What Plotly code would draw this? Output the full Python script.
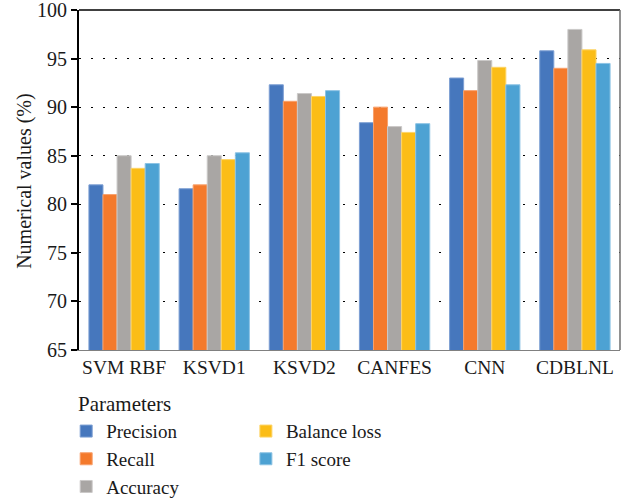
import plotly.graph_objects as go

categories = ["SVM RBF", "KSVD1", "KSVD2", "CANFES", "CNN", "CDBLNL"]
precision = [82.0, 81.6, 92.3, 88.4, 93.0, 95.8]
recall = [81.0, 82.0, 90.6, 90.0, 91.7, 94.0]
accuracy = [85.0, 85.0, 91.4, 88.0, 94.8, 98.0]
balance_loss = [83.7, 84.6, 91.1, 87.4, 94.1, 95.9]
f1_score = [84.2, 85.3, 91.7, 88.3, 92.3, 94.5]
y_ticks = [65, 70, 75, 80, 85, 90, 95, 100]

series = [
    ("Precision", precision, "#4677bd", "#7d9fd3", "legend"),
    ("Recall", recall, "#f47a2c", "#f8a16c", "legend"),
    ("Accuracy", accuracy, "#a9a6a4", "#cbc9c8", "legend"),
    ("Balance loss", balance_loss, "#fbbd17", "#fdd466", "legend2"),
    ("F1 score", f1_score, "#4da2d3", "#8cc3e4", "legend2"),
]

FONT = "Liberation Serif"

fig = go.Figure()
for name, vals, col, lcol, lg in series:
    fig.add_trace(go.Bar(
        x=categories, y=vals, name=name,
        marker=dict(color=col, line=dict(color=lcol, width=1)),
        legend=lg,
    ))

fig.update_layout(
    width=637, height=499,
    margin=dict(l=79, r=17, t=10, b=149, autoexpand=False),
    paper_bgcolor="white", plot_bgcolor="white",
    barmode="group", bargap=0.22, bargroupgap=0,
    font=dict(family=FONT, size=17, color="#1a1a1a"),
    showlegend=True,
    legend=dict(
        x=-0.0237, xanchor="left", y=-0.183, yanchor="top",
        orientation="v", font=dict(family=FONT, size=19),
        bgcolor="rgba(0,0,0,0)",
    ),
    legend2=dict(
        x=0.3085, xanchor="left", y=-0.183, yanchor="top",
        orientation="v", font=dict(family=FONT, size=19),
        bgcolor="rgba(0,0,0,0)",
    ),
    annotations=[
        dict(text="Parameters", xref="paper", yref="paper", x=-0.006, y=-0.119,
             xanchor="left", yanchor="top", showarrow=False,
             font=dict(family=FONT, size=21, color="#1a1a1a")),
        dict(text="Numerical values (%)", xref="paper", yref="paper", x=-0.102, y=0.497,
             xanchor="center", yanchor="middle", textangle=-90, showarrow=False,
             font=dict(family=FONT, size=20, color="#1a1a1a")),
    ],
    xaxis=dict(
        showline=True, linecolor="#808080", linewidth=1,
        showgrid=False, ticks="", automargin=False,
        tickfont=dict(family=FONT, size=19.5),
    ),
    yaxis=dict(
        range=[65, 100], tickvals=y_ticks, automargin=False,
        ticklabeloverflow="allow",
        showline=True, linecolor="black", linewidth=2,
        ticks="outside", ticklen=6, tickcolor="black", tickwidth=1.5,
        showgrid=True, gridcolor="black", gridwidth=1.3, griddash="2px,10px",
        tickfont=dict(family=FONT, size=20),
        zeroline=False,
    ),
    shapes=[
        dict(type="line", xref="paper", yref="paper", x0=0, x1=1, y0=1, y1=1,
             line=dict(color="black", width=1.5)),
        dict(type="line", xref="paper", yref="paper", x0=1, x1=1, y0=0, y1=1,
             line=dict(color="#6e6e6e", width=1.5)),
    ],
)

fig.write_html("out.html", config={"displayModeBar": False},
               post_script="document.body.style.margin='0';")
